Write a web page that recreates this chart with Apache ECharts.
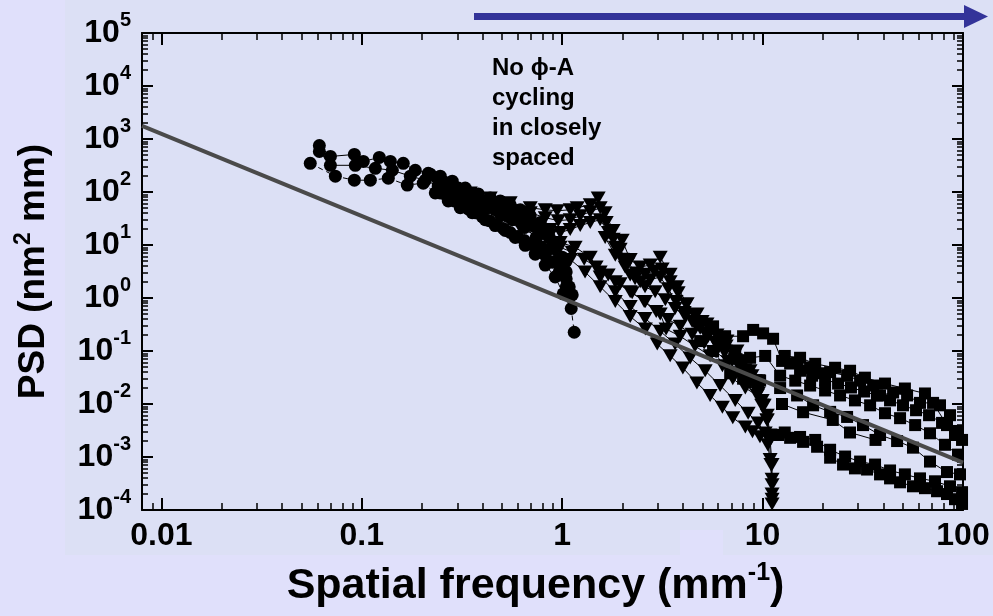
<!DOCTYPE html>
<html><head><meta charset="utf-8">
<script src="https://cdn.jsdelivr.net/npm/echarts@6/dist/echarts.min.js"></script>
<style>html,body{margin:0;padding:0;background:#DCE0F5}#c{width:993px;height:616px}</style>
</head><body><div id="c"></div>
<script>
// ---------- axes ----------
const xMin = 0.008, xMax = 100;
const yMin = 1e-4, yMax = 1e5;
const xMajorTicks = [0.01, 0.1, 1, 10, 100];
const xTickLabels = ['0.01', '0.1', '1', '10', '100'];
const yMajorTicks = [1e-4, 1e-3, 1e-2, 1e-1, 1, 10, 100, 1e3, 1e4, 1e5];
const yTickExponents = ['-4', '-3', '-2', '-1', '0', '1', '2', '3', '4', '5'];

// ---------- data: circles ----------
const circA_x = [0.0614,0.0697,0.0918,0.1017,0.1223,0.1388,0.161,0.1848,0.2146,0.2463,0.2827,0.3282,0.3811,0.4374,0.4906,0.5504,0.6174,0.6926,0.7766,0.8516,0.9228,1.0,1.047,1.084,1.122];
const circA_y = [752,469,511,378,449,378,347,257,226,199,160,119,91.8,77.3,67.9,57.3,46.2,35.7,26.5,17.2,11.2,5.89,3.1,1.63,1.15];
const circB_x = [0.0553,0.0738,0.0918,0.1103,0.1356,0.1686,0.2026,0.2326,0.27,0.3099,0.3557,0.413,0.4632,0.5196,0.583,0.654,0.7335,0.8227,0.9228,1.0115,1.109,1.148];
const circB_y = [347,199,167,167,182,135,147,95.9,67.9,50.4,40.6,30.1,23.3,18.8,13.9,9.86,6.7,4.18,2.5,1.2,0.634,0.226];
const circC_x = [0.0614,0.0697,0.0928,0.1168,0.142,0.1746,0.2074,0.2407,0.2764,0.317,0.3683,0.4274,0.4906,0.563,0.6464,0.742,0.8516,0.955,1.047];
const circC_y = [581,319,319,280,257,199,167,129,109,84.3,65.2,50.4,38.9,30.1,21.3,13.9,8.3,4.75,2.3];
const circD_x = [0.261,0.296,0.3476,0.4,0.463,0.532,0.617,0.709,0.823,0.923,1.035];
const circD_y = [119,91.8,77.3,57.3,46.2,35.7,30.1,23.3,16.5,9.06,4.75];
const circE_x = [0.2196,0.2379,0.2579,0.2796,0.3029,0.3282,0.3557,0.3855,0.4178,0.4527,0.4906,0.5317,0.5762,0.6245,0.6768,0.7335,0.7948,0.8614,0.9334];
const circE_y = [217,182,154,135,119,100,88,77.3,67.9,59.8,52.6,46.2,38.9,32.8,27.6,22.3,18.0,13.9,9.86];
const circF_x = [0.2463,0.2669,0.2892,0.3134,0.3397,0.3683,0.399,0.4323,0.4686,0.5078,0.5504,0.5964,0.6464,0.7005,0.7592,0.8227,0.8917,0.966,1.047];
const circF_y = [95.9,80.7,67.9,57.3,48.2,40.6,34.2,28.8,24.3,20.5,17.2,14.5,12.2,10.3,8.3,6.43,4.75,3.1,1.63];

// ---------- data: triangles ----------
const triA_x = [0.3476,0.4374,0.55,0.6926,0.8227,0.944,1.096,1.188,1.38,1.512,1.638,1.796,1.992,2.184,2.449,2.748,3.083,3.457,3.745,4.2,4.71,5.28,5.92,6.64,7.45,8.18,8.85,9.5,10.05,10.55,10.9,11.15,11.15,11.15];
const triA_y = [95.9,77.3,62.4,50.4,46.2,44.2,46.2,50.4,57.3,77.3,40.6,18.8,12.3,5.3,3.84,4.18,5.89,2.82,1.63,0.78,0.5,0.323,0.2,0.154,0.1,0.065,0.034,0.018,0.00945,0.005,0.0021,0.00072,0.0003,0.00013];
const triB_x = [0.39,0.4906,0.617,0.777,0.871,0.977,1.16,1.38,1.547,1.84,2.184,2.6,3.083,3.3,3.878,4.6,5.47,6.3,7.1,8.2,9.4,9.9,10.5,10.8,11.0,11.15];
const triB_y = [40.6,30,21.3,13.9,15.5,11.2,9.06,5.89,3.1,2.02,1.31,0.855,0.5,0.26,0.19,0.124,0.081,0.0526,0.03,0.02,0.0145,0.00945,0.005,0.0021,0.00072,0.0002];
const triC_x = [0.777,0.92,1.1,1.3,1.547,1.84,2.184,2.6,2.98,3.457,4.0,4.7,5.47,6.3,7.1,8.2,8.9,9.7,10.6,10.9,11.15,11.15];
const triC_y = [9.06,7.3,5.3,3.1,1.63,0.855,0.449,0.26,0.135,0.081,0.048,0.025,0.0145,0.0087,0.0055,0.0037,0.003,0.0024,0.0017,0.0009,0.00038,0.00016];
const triD_x = [0.617,0.733,0.871,0.977,1.096,1.23,1.38,1.547,1.70,1.84,1.99,2.184,2.449,2.748,3.083,3.38,3.70,4.06,4.45,4.88,5.35,5.86,6.43,7.05,7.72,8.47,9.29,9.95,10.55,10.9];
const triD_y = [26.5,21.3,19.6,17.2,19.6,23.3,26.5,30.1,17.2,9.06,5.41,2.72,2.02,2.2,2.5,1.49,0.855,0.533,0.362,0.268,0.19,0.135,0.096,0.0651,0.0483,0.0342,0.0205,0.0117,0.00615,0.00261];
const triE_x = [0.977,1.122,1.287,1.476,1.696,1.946,2.234,2.565,2.945,3.38,3.878,4.45,5.11,5.86,6.73,7.72,8.66,9.5,10.18];
const triE_y = [9.06,7.31,5.41,3.84,2.72,1.85,1.26,0.855,0.557,0.395,0.292,0.207,0.141,0.096,0.0624,0.0389,0.0243,0.0158,0.00945];
const triF_x = [1.547,1.84,2.184,2.59,3.083,3.66,4.35,5.17,6.14,7.3,8.47,9.5,10.3];
const triF_y = [2.5,1.31,0.69,0.412,0.236,0.135,0.0741,0.0424,0.0223,0.0117,0.0067,0.00437,0.00284];
const triG_x = [0.6926,0.8227,0.955,1.096,1.23,1.38,1.547,1.658,1.796,1.946,2.134,2.34,2.59,2.876,3.153,3.457,3.789,4.155,4.555,4.99,5.47,6.0,6.577,7.21,7.9,8.66,9.5];
const triG_y = [40.6,32.8,28.8,30.1,35.7,42.4,50.4,26.5,12.8,8.3,4.56,2.97,2.82,3.24,3.52,2.02,1.26,0.752,0.49,0.362,0.257,0.175,0.124,0.0807,0.0598,0.0424,0.0276];
const triH_x = [1.638,1.84,2.06,2.31,2.59,2.91,3.27,3.66,4.11,4.61,5.17,5.8,6.5,7.3,8.18,9.18];
const triH_y = [13.9,6.43,3.84,2.3,1.63,1.31,0.931,0.634,0.449,0.318,0.217,0.147,0.1,0.068,0.0443,0.0276];

// ---------- data: squares ----------
const sqA_x = [5.66,6.5,7.99,8.97,10.06,11.28,12.51,13.72,14.86,17.26,19.36,21.72,26.4,30.65,35.6,38.55,44.8,52.6,61.0,70.9,83.2,93.4,98.9];
const sqA_y = [0.292,0.19,0.19,0.25,0.215,0.17,0.065,0.058,0.06,0.049,0.038,0.04,0.034,0.0276,0.0223,0.0145,0.0165,0.0145,0.0105,0.0105,0.004,0.0031,0.0021];
const sqB_x = [4.88,5.66,6.89,7.99,9.72,12.23,14.86,17.86,21.72,26.4,31.7,38.55,46.9,56.3,68.45,83.2,96.6];
const sqB_y = [0.154,0.1,0.038,0.03,0.0276,0.02,0.0145,0.00945,0.0071,0.0057,0.004,0.0026,0.002,0.0015,0.00082,0.00052,0.00047];
const sqC_x = [11.95,13.72,15.92,18.7,21.72,25.2,28.9,33.2,38.55,43.25,48.52,56.3,64.6,74.2,83.2,91.2,98.9];
const sqC_y = [0.0026,0.0023,0.00193,0.00156,0.00097,0.00072,0.00061,0.00058,0.00047,0.000395,0.000333,0.00028,0.000258,0.000226,0.0002,0.00016,0.00013];
const sqD_x = [12.5,15.92,22.4,27.3,36.6];
const sqD_y = [0.01,0.007,0.005,0.0029,0.0021];
const sqE_x = [6.14,7.3,8.66,10.3,12.23,14.55,17.26,20.5,24.35,28.9,34.39,40.8,48.52,57.7,68.45,81.3,94.4];
const sqE_y = [0.154,0.1,0.0745,0.0807,0.0342,0.0276,0.0223,0.018,0.0145,0.0117,0.00945,0.0067,0.0054,0.004,0.0028,0.0017,0.00111];
const sqF_x = [12.9,15.38,18.3,23.0,27.32,32.4,40.8,51.3,64.6,76.8,86.1];
const sqF_y = [0.0807,0.0745,0.0573,0.0483,0.0424,0.0314,0.0243,0.0196,0.0158,0.00945,0.00615];
const sqG_x = [12.9,15.38,18.3,21.72,25.8,30.65,36.4,43.25,51.3,61.0,72.5,86.1,98.9];
const sqG_y = [0.0029,0.00239,0.0021,0.00137,0.00102,0.00082,0.00072,0.000557,0.00047,0.000395,0.000348,0.00028,0.000217];
const sqH_x = [15.38,17.66,20.5,23.8,27.6,32.1,37.2,43.25,50.2,58.3,67.7,78.6,91.2];
const sqH_y = [0.0424,0.0342,0.0288,0.0243,0.0205,0.0172,0.0145,0.0117,0.00945,0.00763,0.00615,0.0044,0.0026];

// ---------- data: power-law guide line ----------
const fit_x = [0.008, 100];
const fit_y = [1775, 7.85e-4];

function pts(xs, ys) { return xs.map((x, i) => [x, ys[i]]); }
function minorTicks(lo, hi) {
  const out = [];
  for (let k = -5; k <= 5; k++) for (let m = 2; m <= 9; m++) {
    const v = m * Math.pow(10, k);
    if (v > lo * 1.001 && v < hi * 0.999) out.push(v);
  }
  return out;
}
const FONT = "'Liberation Sans', Arial, sans-serif";
const NARROW = "'Liberation Sans Narrow', 'Arial Narrow', 'Liberation Sans', sans-serif";

function axisCommon(min, max, position, ticks, len, showLine, tw) {
  return {
    type: 'log', logBase: 10, min, max, position,
    axisLine: { show: showLine, onZero: false, lineStyle: { color: '#000', width: 2 } },
    axisTick: { show: true, inside: true, length: len, customValues: ticks, lineStyle: { color: '#000', width: tw } },
    axisLabel: { show: false },
    splitLine: { show: false },
    minorTick: { show: false }, minorSplitLine: { show: false }
  };
}

const xMinor = minorTicks(xMin, xMax);
const yMinor = minorTicks(yMin, yMax);

const xBottom = axisCommon(xMin, xMax, 'bottom', xMajorTicks, 12, true, 2);
xBottom.axisLabel = {
  show: true, customValues: xMajorTicks, margin: 8,
  fontFamily: NARROW, fontWeight: 'bold', fontSize: 32, lineHeight: 36, color: '#000',
  formatter: function (v) {
    let best = 0;
    xMajorTicks.forEach((t, i) => { if (Math.abs(Math.log10(t) - Math.log10(v)) < Math.abs(Math.log10(xMajorTicks[best]) - Math.log10(v))) best = i; });
    return xTickLabels[best];
  }
};
xBottom.name = 'Spatial frequency (mm{s|-1})';
xBottom.nameLocation = 'middle';
xBottom.nameGap = 51;
xBottom.nameTextStyle = {
  fontFamily: FONT, fontWeight: 'bold', fontSize: 43, lineHeight: 50, color: '#000',
  padding: [0, 34, 0, 0],
  rich: { s: { fontFamily: FONT, fontWeight: 'bold', fontSize: 25, lineHeight: 29, verticalAlign: 'top', color: '#000' } }
};

const yLeft = axisCommon(yMin, yMax, 'left', yMajorTicks, 11, true, 2);
yLeft.axisLabel = {
  show: true, customValues: yMajorTicks, margin: 11,
  color: '#000',
  formatter: function (v) {
    const e = Math.round(Math.log10(v));
    const idx = yMajorTicks.findIndex(t => Math.round(Math.log10(t)) === e);
    return '{b|10}{s|' + yTickExponents[idx] + '}';
  },
  rich: {
    b: { fontFamily: NARROW, fontWeight: 'bold', fontSize: 32, lineHeight: 46, color: '#000' },
    s: { fontFamily: FONT, fontWeight: 'bold', fontSize: 20, lineHeight: 20, verticalAlign: 'top', color: '#000' }
  }
};
yLeft.name = 'PSD (nm{s|2} mm)';
yLeft.nameLocation = 'middle';
yLeft.nameGap = 86;
yLeft.nameTextStyle = {
  fontFamily: FONT, fontWeight: 'bold', fontSize: 37, lineHeight: 44, color: '#000',
  rich: { s: { fontFamily: FONT, fontWeight: 'bold', fontSize: 23, lineHeight: 26, verticalAlign: 'top', color: '#000' } }
};

const option = {
  animation: false,
  backgroundColor: '#DCE0F5',
  grid: { left: 142, top: 33, right: 30, bottom: 100, containLabel: false },
  xAxis: [
    xBottom,
    axisCommon(xMin, xMax, 'bottom', xMinor, 7, false, 1.5),
    axisCommon(xMin, xMax, 'top', xMajorTicks, 12, true, 2),
    axisCommon(xMin, xMax, 'top', xMinor, 7, false, 1.5)
  ],
  yAxis: [
    yLeft,
    axisCommon(yMin, yMax, 'left', yMinor, 6, false, 1.5),
    axisCommon(yMin, yMax, 'right', yMajorTicks, 11, true, 2),
    axisCommon(yMin, yMax, 'right', yMinor, 6, false, 1.5)
  ],
  graphic: [
    { type: 'rect', z: -10, shape: { x: 0, y: 0, width: 65, height: 616 }, style: { fill: '#E0E0FB' } },
    { type: 'rect', z: -10, shape: { x: 65, y: 555, width: 928, height: 61 }, style: { fill: '#E0E0FB' } },
    { type: 'rect', z: -10, shape: { x: 680, y: 530, width: 43, height: 25 }, style: { fill: '#E0E0FB' } },
    { type: 'line', z: 10, shape: { x1: 474, y1: 16.5, x2: 966, y2: 16.5 }, style: { stroke: '#333399', lineWidth: 7 } },
    { type: 'polygon', z: 10, shape: { points: [[964, 5], [988, 16.5], [964, 28]] }, style: { fill: '#333399' } },
    { type: 'text', z: 10, left: 492, top: 53,
      style: { text: 'No ϕ-A\ncycling\nin closely\nspaced', font: "bold 24px 'Liberation Sans', Arial, sans-serif", lineHeight: 30, fill: '#000' } }
  ],
  series: []
};

function addSeries(name, xs, ys, symbol, size, rotate, dashed) {
  option.series.push({
    name, type: 'line', xAxisIndex: 0, yAxisIndex: 0,
    data: pts(xs, ys), symbol, symbolSize: size, symbolRotate: rotate,
    showSymbol: true, showAllSymbol: true,
    lineStyle: { color: '#000', width: 1, type: dashed ? [5, 4] : 'solid' },
    itemStyle: { color: '#000', borderWidth: 0 },
    emphasis: { disabled: true }, z: 2
  });
}
const CIRC = 13, TRI = [15, 13], SQ = 12;
addSeries('circA', circA_x, circA_y, 'circle', CIRC, 0, false);
addSeries('circB', circB_x, circB_y, 'circle', CIRC, 0, true);
addSeries('circC', circC_x, circC_y, 'circle', CIRC, 0, false);
addSeries('circD', circD_x, circD_y, 'circle', CIRC, 0, true);
addSeries('circE', circE_x, circE_y, 'circle', CIRC, 0, false);
addSeries('circF', circF_x, circF_y, 'circle', CIRC, 0, true);
addSeries('triA', triA_x, triA_y, 'triangle', TRI, 180, false);
addSeries('triB', triB_x, triB_y, 'triangle', TRI, 180, false);
addSeries('triC', triC_x, triC_y, 'triangle', TRI, 180, false);
addSeries('triD', triD_x, triD_y, 'triangle', TRI, 180, false);
addSeries('triE', triE_x, triE_y, 'triangle', TRI, 180, false);
addSeries('triF', triF_x, triF_y, 'triangle', TRI, 180, false);
addSeries('triG', triG_x, triG_y, 'triangle', TRI, 180, false);
addSeries('triH', triH_x, triH_y, 'triangle', TRI, 180, false);
addSeries('sqA', sqA_x, sqA_y, 'rect', SQ, 0, false);
addSeries('sqB', sqB_x, sqB_y, 'rect', SQ, 0, false);
addSeries('sqC', sqC_x, sqC_y, 'rect', SQ, 0, false);
addSeries('sqD', sqD_x, sqD_y, 'rect', SQ, 0, false);
addSeries('sqE', sqE_x, sqE_y, 'rect', SQ, 0, false);
addSeries('sqF', sqF_x, sqF_y, 'rect', SQ, 0, false);
addSeries('sqG', sqG_x, sqG_y, 'rect', SQ, 0, false);
addSeries('sqH', sqH_x, sqH_y, 'rect', SQ, 0, false);
option.series.push({
  name: 'fit', type: 'line', xAxisIndex: 0, yAxisIndex: 0,
  data: pts(fit_x, fit_y), symbol: 'none',
  lineStyle: { color: '#4a4a4a', width: 4 }, z: 5, emphasis: { disabled: true }
});

const chart = echarts.init(document.getElementById('c'), null, { renderer: 'canvas' });
chart.setOption(option);
</script>
</body></html>
